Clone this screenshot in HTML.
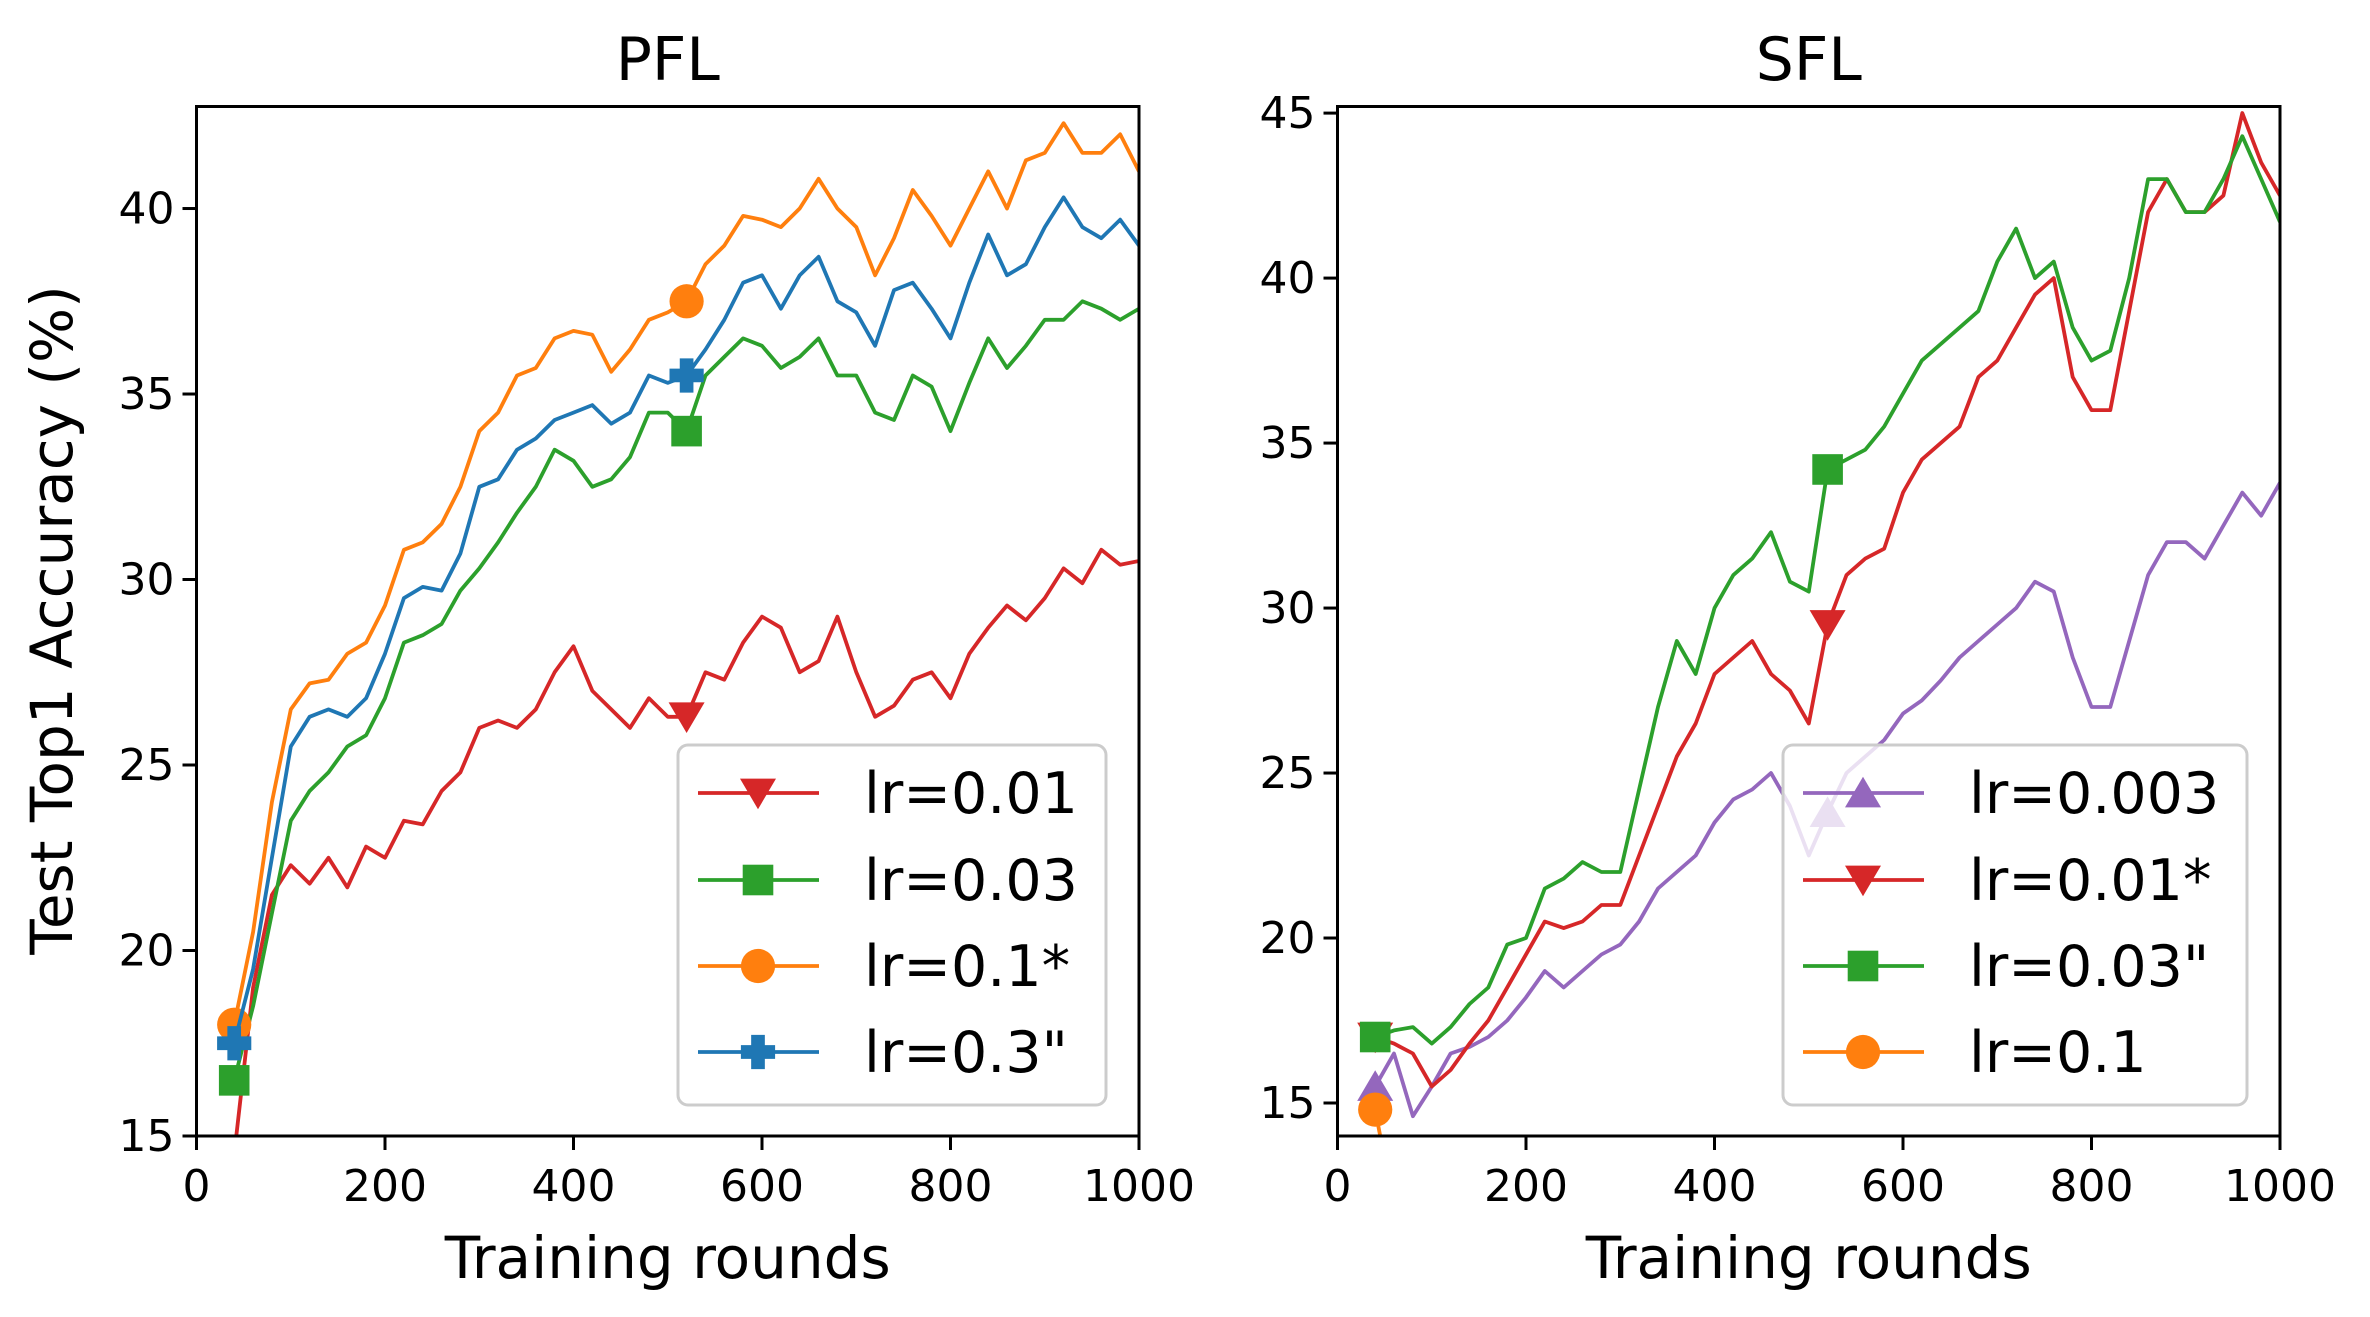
<!DOCTYPE html>
<html><head><meta charset="utf-8"><style>
html,body{margin:0;padding:0;background:#fff;}
svg{display:block;font-family:"DejaVu Sans","Liberation Sans",sans-serif;}
</style></head><body>
<svg id="chart" width="2370" height="1317" viewBox="0 0 2370 1317" xmlns="http://www.w3.org/2000/svg"></svg>
<script>
const rounds = [40,60,80,100,120,140,160,180,200,220,240,260,280,300,320,340,360,380,400,420,440,460,480,500,520,540,560,580,600,620,640,660,680,700,720,740,760,780,800,820,840,860,880,900,920,940,960,980,1000];
// PFL
const pflRed = [14.5,19,21.5,22.3,21.8,22.5,21.7,22.8,22.5,23.5,23.4,24.3,24.8,26,26.2,26,26.5,27.5,28.2,27,26.5,26,26.8,26.3,26.3,27.5,27.3,28.3,29,28.7,27.5,27.8,29,27.5,26.3,26.6,27.3,27.5,26.8,28,28.7,29.3,28.9,29.5,30.3,29.9,30.8,30.4,30.5];
const pflGreen = [16.5,18.5,21,23.5,24.3,24.8,25.5,25.8,26.8,28.3,28.5,28.8,29.7,30.3,31,31.8,32.5,33.5,33.2,32.5,32.7,33.3,34.5,34.5,34,35.5,36,36.5,36.3,35.7,36,36.5,35.5,35.5,34.5,34.3,35.5,35.2,34,35.3,36.5,35.7,36.3,37,37,37.5,37.3,37,37.3];
const pflOrange = [18,20.5,24,26.5,27.2,27.3,28,28.3,29.3,30.8,31,31.5,32.5,34,34.5,35.5,35.7,36.5,36.7,36.6,35.6,36.2,37,37.2,37.5,38.5,39,39.8,39.7,39.5,40,40.8,40,39.5,38.2,39.2,40.5,39.8,39,40,41,40,41.3,41.5,42.3,41.5,41.5,42,41];
const pflBlue = [17.5,19.5,22.5,25.5,26.3,26.5,26.3,26.8,28,29.5,29.8,29.7,30.7,32.5,32.7,33.5,33.8,34.3,34.5,34.7,34.2,34.5,35.5,35.3,35.5,36.2,37,38,38.2,37.3,38.2,38.7,37.5,37.2,36.3,37.8,38,37.3,36.5,38,39.3,38.2,38.5,39.5,40.3,39.5,39.2,39.7,39];
// SFL
const sflPurple = [15.5,16.5,14.6,15.5,16.5,16.7,17,17.5,18.2,19,18.5,19,19.5,19.8,20.5,21.5,22,22.5,23.5,24.2,24.5,25,24,22.5,23.8,25,25.5,26,26.8,27.2,27.8,28.5,29,29.5,30,30.8,30.5,28.5,27,27,29,31,32,32,31.5,32.5,33.5,32.8,33.8];
const sflRed = [17,16.8,16.5,15.5,16,16.8,17.5,18.5,19.5,20.5,20.3,20.5,21,21,22.5,24,25.5,26.5,28,28.5,29,28,27.5,26.5,29.5,31,31.5,31.8,33.5,34.5,35,35.5,37,37.5,38.5,39.5,40,37,36,36,39,42,43,42,42,42.5,45,43.5,42.5];
const sflGreen = [17,17.2,17.3,16.8,17.3,18,18.5,19.8,20,21.5,21.8,22.3,22,22,24.5,27,29,28,30,31,31.5,32.3,30.8,30.5,34.2,34.5,34.8,35.5,36.5,37.5,38,38.5,39,40.5,41.5,40,40.5,38.5,37.5,37.8,40,43,43,42,42,43,44.3,43,41.7];
const sflOrangeRounds = [40,50];
const sflOrange = [14.8,13.3];
const xTicks = [0,200,400,600,800,1000];
const pflYTicks = [15,20,25,30,35,40];
const sflYTicks = [15,20,25,30,35,40,45];
const markRounds = [40,520];

const C = {red:'#d62728',green:'#2ca02c',orange:'#ff7f0e',blue:'#1f77b4',purple:'#9467bd'};
const NS = 'http://www.w3.org/2000/svg';
const svg = document.getElementById('chart');
function mk(tag, attrs, parent){ const e=document.createElementNS(NS,tag); for(const k in attrs) e.setAttribute(k,attrs[k]); (parent||svg).appendChild(e); return e; }

function marker(g, type, cx, cy, color, s){
  let e;
  if(type==='v'){ e=mk('polygon',{points:`${cx-s},${cy-s*0.8} ${cx+s},${cy-s*0.8} ${cx},${cy+s*0.9}`,fill:color},g); }
  else if(type==='^'){ e=mk('polygon',{points:`${cx-s},${cy+s*0.8} ${cx+s},${cy+s*0.8} ${cx},${cy-s*0.9}`,fill:color},g); }
  else if(type==='s'){ e=mk('rect',{x:cx-s*0.85,y:cy-s*0.85,width:s*1.7,height:s*1.7,fill:color},g); }
  else if(type==='o'){ e=mk('circle',{cx:cx,cy:cy,r:s*0.95,fill:color},g); }
  else { const a=s*0.95,b=s*0.38; e=mk('path',{d:`M${cx-b},${cy-a}H${cx+b}V${cy-b}H${cx+a}V${cy+b}H${cx+b}V${cy+a}H${cx-b}V${cy+b}H${cx-a}V${cy-b}H${cx-b}Z`,fill:color},g); }
  return e;
}

function panel(name, L, R, T, B, ymin, ymax, yTicks, title, series, legend){
  const g = mk('g',{});
  
  
  const xs = r => L + (r/1000)*(R-L);
  const ys = v => B - (v-ymin)/(ymax-ymin)*(B-T);
  const cid = name+'-clip';
  const cp = mk('clipPath',{id:cid},g); mk('rect',{x:L,y:T,width:R-L,height:B-T},cp);
  series.forEach(s=>{
    const sg = mk('g',{'clip-path':`url(#${cid})`},g);
    
    
    const pts = s.x.map((r,i)=>xs(r).toFixed(1)+','+ys(s.y[i]).toFixed(1)).join(' ');
    mk('polyline',{points:pts,fill:'none',stroke:s.color,'stroke-width':3.8,'stroke-linejoin':'round'},sg);
    markRounds.forEach(mr=>{
      const i = s.x.indexOf(mr);
      if(i<0) return;
      const m = marker(sg, s.m, xs(mr), ys(s.y[i]), s.color, 18);
      
      
    });
  });
  const fr = mk('rect',{x:L,y:T,width:R-L,height:B-T,fill:'none',stroke:'#000','stroke-width':3},g);
  
  
  xTicks.forEach(t=>{
    mk('line',{x1:xs(t),x2:xs(t),y1:B,y2:B+14,stroke:'#000','stroke-width':3},g);
    const tx = mk('text',{x:xs(t),y:1201,'font-size':44,'text-anchor':'middle',fill:'#000'},g);
    tx.textContent = t;
    
    
  });
  yTicks.forEach(t=>{
    mk('line',{x1:L-14,x2:L,y1:ys(t),y2:ys(t),stroke:'#000','stroke-width':3},g);
    const tx = mk('text',{x:L-22,y:ys(t)+15,'font-size':44,'text-anchor':'end',fill:'#000'},g);
    tx.textContent = t;
    
    
  });
  const ti = mk('text',{x:(L+R)/2,y:80,'font-size':60,'text-anchor':'middle',fill:'#000'},g);
  ti.textContent = title;
  
  
  const xl = mk('text',{x:(L+R)/2,y:1278,'font-size':58,'text-anchor':'middle',fill:'#000'},g);
  xl.textContent = 'Training rounds';
  
  
  const lg = mk('g',{},g);
  
  
  mk('rect',{x:legend.x,y:745,width:legend.w,height:360,rx:10,fill:'#fff','fill-opacity':0.8,stroke:'#cccccc','stroke-width':3},lg);
  const rowsY = [793,880,966,1052];
  legend.items.forEach((it,i)=>{
    const eg = mk('g',{},lg);
    
    
    const y = rowsY[i], x0 = legend.x+20;
    mk('line',{x1:x0,x2:x0+121,y1:y,y2:y,stroke:it.color,'stroke-width':3.8},eg);
    marker(eg, it.m, x0+60, y, it.color, 18);
    const t = mk('text',{x:x0+166,y:y+20,'font-size':57,fill:'#000'},eg);
    t.textContent = it.label;
  });
}

panel('pfl',196.5,1139,106.5,1136,15,42.75,pflYTicks,'PFL',[
  {label:'lr=0.01',x:rounds,y:pflRed,color:C.red,m:'v'},
  {label:'lr=0.03',x:rounds,y:pflGreen,color:C.green,m:'s'},
  {label:'lr=0.1*',x:rounds,y:pflOrange,color:C.orange,m:'o'},
  {label:'lr=0.3"',x:rounds,y:pflBlue,color:C.blue,m:'P'}
],{x:678,w:428,items:[
  {label:'lr=0.01',color:C.red,m:'v'},{label:'lr=0.03',color:C.green,m:'s'},
  {label:'lr=0.1*',color:C.orange,m:'o'},{label:'lr=0.3"',color:C.blue,m:'P'}]});

panel('sfl',1337.5,2280,106.5,1136,14,45.2,sflYTicks,'SFL',[
  {label:'lr=0.003',x:rounds,y:sflPurple,color:C.purple,m:'^'},
  {label:'lr=0.01*',x:rounds,y:sflRed,color:C.red,m:'v'},
  {label:'lr=0.03"',x:rounds,y:sflGreen,color:C.green,m:'s'},
  {label:'lr=0.1',x:sflOrangeRounds,y:sflOrange,color:C.orange,m:'o'}
],{x:1783,w:464,items:[
  {label:'lr=0.003',color:C.purple,m:'^'},{label:'lr=0.01*',color:C.red,m:'v'},
  {label:'lr=0.03"',color:C.green,m:'s'},{label:'lr=0.1',color:C.orange,m:'o'}]});

const yl = mk('text',{x:0,y:0,'font-size':58,'text-anchor':'middle',fill:'#000',transform:'translate(72,620) rotate(-90)'});
yl.textContent = 'Test Top1 Accuracy (%)';


</script>
</body></html>
